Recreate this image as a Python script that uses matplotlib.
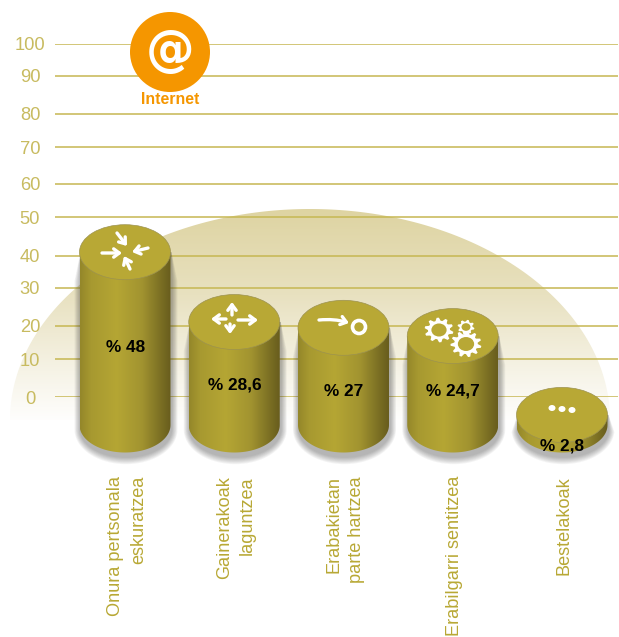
import numpy as np
import matplotlib
matplotlib.use("Agg")
import matplotlib.pyplot as plt
from matplotlib.patches import Ellipse, Circle, Polygon, FancyArrowPatch
from matplotlib.colors import LinearSegmentedColormap

plt.rcParams['font.family'] = ['Liberation Sans', 'DejaVu Sans']

categories = ["Onura pertsonala\neskuratzea", "Gainerakoak\nlaguntzea", "Erabakietan\nparte hartzea",
              "Erabilgarri sentitzea", "Bestelakoak"]
values = [48, 28.6, 27, 24.7, 2.8]
value_labels = ["% 48", "% 28,6", "% 27", "% 24,7", "% 2,8"]
value_label_y = [348, 385, 391, 391, 446]
y_ticks = [0, 10, 20, 30, 40, 50, 60, 70, 80, 90, 100]
y_tick_px = [397, 359, 326, 288, 256, 217, 184, 147, 114, 76, 44]

W, H = 619, 637
GOLD = "#b8a835"
LINE = "#c6b752"
TICK = "#c8bb60"
ORANGE = "#f59600"
fig = plt.figure(figsize=(W / 100, H / 100), dpi=100, facecolor="white")


def full_ax(z):
    a = fig.add_axes([0, 0, 1, 1], zorder=z)
    a.patch.set_alpha(0)
    return a


# Background dome
ax_bg = full_ax(0)
ax_bg.set_xlim(0, W); ax_bg.set_ylim(H, 0); ax_bg.axis("off")
dome_cmap = LinearSegmentedColormap.from_list("dome", [(0, "#ded4a2"), (0.4, "#e8e1c0"), (0.75, "#f6f3e6"), (1, "#ffffff")])
im = ax_bg.imshow(np.linspace(0, 1, 256)[:, None], extent=[0, W, 425, 209], cmap=dome_cmap, aspect="auto")
t = np.linspace(np.pi, 2 * np.pi, 200)
dome = Polygon(np.c_[310 + 300 * np.cos(t), 420 + 211 * np.sin(t)], closed=True, transform=ax_bg.transData,
               fc="none", ec="none")
ax_bg.add_patch(dome)
im.set_clip_path(dome)
ax_bg.set_xlim(0, W); ax_bg.set_ylim(H, 0)

# Grid axis (tick spacing as printed in the reference)
ax_g = fig.add_axes([55 / W, 1 - 397 / H, (618 - 55) / W, (397 - 44) / H], zorder=1)
ax_g.patch.set_alpha(0)
ax_g.set_yscale("function", functions=(
    lambda v: np.interp(v, y_ticks, -np.array(y_tick_px, float)),
    lambda p: np.interp(p, -np.array(y_tick_px, float), y_ticks)))
ax_g.set_ylim(0, 100)
ax_g.set_yticks(y_ticks)
ax_g.set_yticklabels([str(v) for v in y_ticks], fontsize=13.2, color=TICK, ha="center")
ax_g.set_xticks([])
ax_g.tick_params(axis="y", length=0, pad=18)
ax_g.grid(axis="y", color=LINE, lw=1.1)
for s in ax_g.spines.values():
    s.set_visible(False)

# Cylinders
ax_c = full_ax(2)
ax_c.axis("off")
DX, DY = 109.25, 3.6
ax_c.set_xlim(-125 / DX, (W - 125) / DX)
ax_c.set_ylim(-(H - 425) / DY, 425 / DY)
rx, ry = 45.5 / DX, 27.5 / DY
body_cmap = LinearSegmentedColormap.from_list(
    "body", [(0, "#94872a"), (0.12, "#a79930"), (0.4, "#b5a634"), (0.68, "#a29430"), (0.88, "#7d7124"), (1, "#685d1d")])
th = np.linspace(np.pi, 2 * np.pi, 80)
for i, v in enumerate(values):
    for k in range(8):
        g = 8 - k
        sx = rx + g * 0.75 / DX
        sy = ry + g * 0.9 / DY
        drop = 4.5 / DY
        c = i + 1 / DX
        shoulder = max(v - 8, -2)
        xs = np.r_[c - rx, c - sx, c + sx * np.cos(th), c + sx, c + rx]
        ys = np.r_[v, shoulder, -drop - sy * np.abs(np.sin(th)), shoulder, v]
        ax_c.add_patch(Polygon(np.c_[xs, ys], closed=True, fc="#303030", ec="none", alpha=0.05, zorder=1))
    xs = np.r_[i - rx, i + rx * np.cos(th), i + rx]
    ys = np.r_[v, 0 - ry * np.abs(np.sin(th)), v]
    poly = Polygon(np.c_[xs, ys], closed=True, fc="none", ec="none", transform=ax_c.transData)
    ax_c.add_patch(poly)
    img = ax_c.imshow(np.linspace(0, 1, 128)[None, :], extent=[i - rx, i + rx, -ry - 1, v + 1],
                      cmap=body_cmap, aspect="auto", zorder=2)
    img.set_clip_path(poly)
    ax_c.add_patch(Ellipse((i, v), 2 * rx, 2 * ry, fc=GOLD, ec="#9c9250", lw=0.5, zorder=3))
ax_c.set_xlim(-125 / DX, (W - 125) / DX)
ax_c.set_ylim(-(H - 425) / DY, 425 / DY)

# Text and icons
ax_p = full_ax(3)
ax_p.set_xlim(0, W); ax_p.set_ylim(H, 0); ax_p.axis("off")
for i, (lab, y) in enumerate(zip(value_labels, value_label_y)):
    ax_p.text(125.5 + i * DX, y, lab, ha="center", va="center", fontsize=12.4, fontweight="bold", color="black")
for i, cat in enumerate(categories):
    ax_p.text(127 + i * DX, 476, cat, rotation=90, ha="center", va="top", multialignment="right",
              fontsize=13.1, color=GOLD, linespacing=1.45, clip_on=False)

ax_p.add_patch(Circle((170, 52), 40, fc=ORANGE, ec="none"))
ax_p.text(170, 51, "@", color="white", fontsize=35, ha="center", va="center", fontweight="bold",
          family=["DejaVu Sans"])
ax_p.text(170, 100, "Internet", color=ORANGE, fontsize=11.4, fontweight="bold", ha="center", va="center")


def arrow(p0, p1, rad=0.0):
    ax_p.add_patch(FancyArrowPatch(p0, p1, arrowstyle="->,head_length=0.4,head_width=0.3", mutation_scale=10,
                                   lw=2.4, color="white", shrinkA=0, shrinkB=0, zorder=5,
                                   connectionstyle=f"arc3,rad={rad}"))


for a, b in [((117, 233), (127, 246)), ((148, 248), (132, 252)), ((102, 253), (122, 253)), ((130, 269), (124, 256)),
             ((232, 315), (232, 302)), ((238, 320), (258, 320)), ((226, 319), (211, 319)), ((230, 324), (230, 334))]:
    arrow(a, b)
arrow((319, 320), (349, 323), rad=-0.1)
ax_p.add_patch(Ellipse((359, 327), 13, 13, fc="none", ec="white", lw=2.6, zorder=5))


def gear(cx, cy, r, n):
    a = np.linspace(0, 2 * np.pi, n * 4, endpoint=False) + 0.15
    rad = np.tile([r, r, r * 0.76, r * 0.76], n)
    ax_p.add_patch(Polygon(np.c_[cx + rad * np.cos(a), cy + 0.85 * rad * np.sin(a)], closed=True, fc="white", ec="none", zorder=5))
    ax_p.add_patch(Ellipse((cx, cy), r * 1.05, r * 0.9, fc=GOLD, ec="none", zorder=6))


gear(439, 330, 14.5, 10)
gear(466, 344, 15.5, 11)
gear(466, 327, 8.5, 8)
for x, y in [(552, 408), (562, 409), (572, 410)]:
    ax_p.add_patch(Ellipse((x, y), 7, 6, fc="white", ec="none", zorder=5))

fig.savefig("out.png", dpi=100, facecolor="white")
